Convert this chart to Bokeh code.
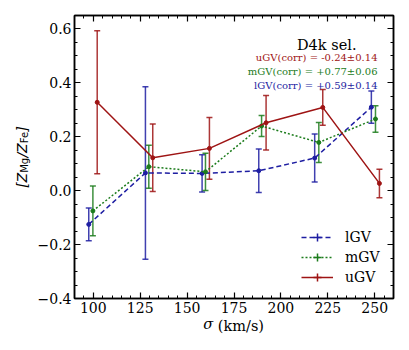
import math
from bokeh.plotting import figure
from bokeh.embed import file_html
from bokeh.resources import INLINE
from bokeh.models import (Range1d, LinearAxis, FixedTicker, CustomJSTickFormatter,
                          Whisker, TeeHead, ColumnDataSource, Label, Legend, LegendItem)

# ---- data ----
sigma_l = [97.6, 127.8, 158.0, 188.2, 218.0, 248.2]
z_l = [-0.125, 0.066, 0.064, 0.074, 0.121, 0.310]
e_l = [0.061, 0.320, 0.069, 0.081, 0.089, 0.060]

sigma_m = [99.8, 129.6, 159.8, 189.7, 220.2, 250.4]
z_m = [-0.075, 0.089, 0.070, 0.240, 0.179, 0.266]
e_m = [0.092, 0.080, 0.069, 0.039, 0.074, 0.049]

sigma_u = [102.1, 131.7, 161.9, 192.1, 222.3, 252.5]
z_u = [0.328, 0.122, 0.157, 0.252, 0.309, 0.027]
e_u = [0.265, 0.125, 0.115, 0.101, 0.066, 0.053]

series_names = ["lGV", "mGV", "uGV"]
corr_texts = ["uGV(corr) = -0.24\u00b10.14", "mGV(corr) = +0.77\u00b10.06", "lGV(corr) = +0.59\u00b10.14"]
title_text = "D4k sel."

x_major = [100, 125, 150, 175, 200, 225, 250]
x_minor = list(range(90, 261, 5))
y_major = [-0.4, -0.2, 0.0, 0.2, 0.4, 0.6]
y_minor = [round(-0.4 + 0.05 * i, 2) for i in range(22)]

XMIN, XMAX, YMIN, YMAX = 90, 260, -0.4, 0.65
FW, FH = 319, 283

RED = "#9e1414"
GREEN = "#1c7c1c"
BLUE = "#1e1ea2"
SERIF = "DejaVu Serif"
SANS = "DejaVu Sans"

p = figure(frame_width=FW, frame_height=FH, x_range=Range1d(XMIN, XMAX), y_range=Range1d(YMIN, YMAX),
           output_backend="svg", toolbar_location=None,
           min_border_left=74, min_border_right=12, min_border_top=15, min_border_bottom=40)
p.grid.visible = False
p.outline_line_color = "black"
p.outline_line_width = 1.5
p.background_fill_color = "white"
p.border_fill_color = "white"

yfmt = CustomJSTickFormatter(code="return (tick < -1e-9 ? '\\u2212' : '') + Math.abs(tick).toFixed(1);")
blank = CustomJSTickFormatter(code="return '';")

def style_axis(ax, ticks, minor, show_labels, fmt=None):
    ax.ticker = FixedTicker(ticks=ticks, minor_ticks=minor)
    ax.major_tick_in = 6
    ax.major_tick_out = 0
    ax.minor_tick_in = 3
    ax.minor_tick_out = 0
    ax.axis_line_width = 1.5
    ax.major_tick_line_width = 1.2
    ax.minor_tick_line_width = 1.0
    ax.axis_line_color = "black"
    ax.major_tick_line_color = "black"
    ax.minor_tick_line_color = "black"
    if show_labels:
        if fmt is not None:
            ax.formatter = fmt
        ax.major_label_text_font = SERIF
        ax.major_label_text_font_size = "14px"
        ax.major_label_text_color = "black"
    else:
        ax.formatter = blank
        ax.major_label_standoff = 0

style_axis(p.xaxis[0], x_major, x_minor, True)
p.xaxis[0].major_label_standoff = 3
style_axis(p.yaxis[0], y_major, y_minor, True, yfmt)
p.yaxis[0].major_label_standoff = 3

top = LinearAxis()
style_axis(top, x_major, x_minor, False)
p.add_layout(top, "above")
right = LinearAxis()
style_axis(right, y_major, y_minor, False)
p.add_layout(right, "right")

# ---- y-axis title  [Z_Mg/Z_Fe]  (main text + subscripts on an extra label-only axis) ----
main_fs, sub_fs = 14, 10
w_br, w_z, w_sl = 0.390 * main_fs, 0.685 * main_fs, 0.337 * main_fs
w_mg, w_fe = 1.498 * sub_fs, 1.190 * sub_fs
total = 2 * w_br + 2 * w_z + w_sl + w_mg + w_fe
ppu_y = FH / (YMAX - YMIN)
yc = (YMIN + YMAX) / 2
mg_off = (w_br + w_z + w_mg / 2) - total / 2
fe_off = (w_br + w_z + w_mg + w_sl + w_z + w_fe / 2) - total / 2
sub_ticks = [yc + mg_off / ppu_y, yc + fe_off / ppu_y]

ylab = LinearAxis(ticker=FixedTicker(ticks=sub_ticks, minor_ticks=[]),
                  formatter=CustomJSTickFormatter(code="return index === 0 ? 'Mg' : 'Fe';"))
ylab.axis_line_color = None
ylab.major_tick_line_color = None
ylab.minor_tick_line_color = None
ylab.major_tick_in = 0
ylab.major_tick_out = 0
ylab.minor_tick_in = 0
ylab.minor_tick_out = 0
ylab.major_label_orientation = "vertical"
ylab.major_label_text_font = SANS
ylab.major_label_text_font_size = f"{sub_fs}px"
ylab.major_label_text_color = "black"
ylab.major_label_standoff = 4
ylab.axis_label = "[Z\u2003\u200a/Z\u2002\u2005\u200a]"
ylab.axis_label_text_font = SANS
ylab.axis_label_text_font_style = "italic"
ylab.axis_label_text_font_size = f"{main_fs}px"
ylab.axis_label_text_color = "black"
ylab.axis_label_standoff = -13
p.add_layout(ylab, "left")

# ---- x-axis title  sigma (km/s) ----
xfs = 14.5
ppu_x = FW / (XMAX - XMIN)
xtot = 0.636 * xfs + 0.318 * xfs + 3.23 * xfs
sig_tick = (XMIN + XMAX) / 2 + (-xtot / 2 + 0.318 * xfs) / ppu_x
xlab = LinearAxis(ticker=FixedTicker(ticks=[sig_tick], minor_ticks=[]),
                  formatter=CustomJSTickFormatter(code="return '\\u03c3';"))
xlab.axis_line_color = None
xlab.major_tick_line_color = None
xlab.minor_tick_line_color = None
xlab.major_tick_in = 0
xlab.major_tick_out = 0
xlab.minor_tick_in = 0
xlab.minor_tick_out = 0
xlab.major_label_text_font = SERIF
xlab.major_label_text_font_style = "italic"
xlab.major_label_text_font_size = f"{xfs}px"
xlab.major_label_text_color = "black"
xlab.major_label_standoff = 0
xlab.axis_label = "\u2007 (km/s)"
xlab.axis_label_text_font = SERIF
xlab.axis_label_text_font_style = "normal"
xlab.axis_label_text_font_size = f"{xfs}px"
xlab.axis_label_text_color = "black"
xlab.axis_label_standoff = -17
p.add_layout(xlab, "below")

# ---- series ----
items = []
specs = [(sigma_l, z_l, e_l, BLUE, "5 3"),
         (sigma_m, z_m, e_m, GREEN, "2 2"),
         (sigma_u, z_u, e_u, RED, None)]
for (sx, sz, se, col, dash), name in zip(specs, series_names):
    src = ColumnDataSource(dict(x=sx, y=sz,
                                lo=[a - b for a, b in zip(sz, se)],
                                hi=[a + b for a, b in zip(sz, se)]))
    w = Whisker(source=src, base="x", upper="hi", lower="lo", dimension="height",
                line_color=col, line_width=1.5, line_alpha=0.85,
                upper_head=TeeHead(size=6, line_color=col, line_width=1.5, line_alpha=0.85),
                lower_head=TeeHead(size=6, line_color=col, line_width=1.5, line_alpha=0.85))
    p.add_layout(w)
    kw = dict(line_color=col, line_width=1.5)
    if dash:
        kw["line_dash"] = dash
    rl = p.line("x", "y", source=src, **kw)
    p.scatter("x", "y", source=src, size=4, color=col)
    # legend-only error-bar cross (size 0 at the data points)
    rc = p.scatter("x", "y", source=src, marker="cross", size=0, line_color=col, line_width=1.5)
    items.append(LegendItem(label=name, renderers=[rl, rc]))

legend = Legend(items=items, location=(223, 7), glyph_width=32, glyph_height=20, spacing=0,
                label_standoff=12, padding=4, border_line_alpha=0, background_fill_alpha=0,
                label_text_font=SERIF, label_text_font_size="14px", label_text_color="black",
                margin=0)
p.add_layout(legend, "center")

# annotations (screen units, relative to plot frame)
p.add_layout(Label(x=282, y=254, x_units="screen", y_units="screen", text=title_text,
                   text_align="right", text_baseline="alphabetic",
                   text_font=SERIF, text_font_size="14.5px", text_color="black"))
for t, c, yy in zip(corr_texts, [RED, GREEN, BLUE], [241, 227, 213]):
    p.add_layout(Label(x=303, y=yy, x_units="screen", y_units="screen", text=t,
                       text_align="right", text_baseline="alphabetic",
                       text_font=SERIF, text_font_size="10px", text_color=c))

open("out.html", "w").write(file_html(p, INLINE))
